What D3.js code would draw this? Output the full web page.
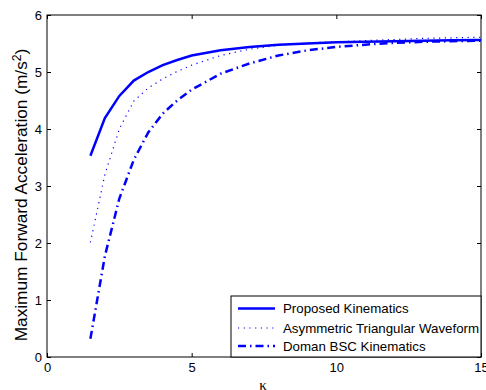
<!DOCTYPE html>
<html>
<head>
<meta charset="utf-8">
<script src="https://cdn.jsdelivr.net/npm/d3@7"></script>
<style>
  body { margin: 0; background: #fff; }
  text { font-family: "Liberation Sans", Arial, sans-serif; }
</style>
</head>
<body>
<div id="chart"></div>
<script>
  // data
  const kappa = [1.5, 2, 2.5, 3, 3.5, 4, 4.5, 5, 6, 7, 8, 9, 10, 11, 12, 13, 14, 15];
  const proposed = [3.53, 4.19, 4.58, 4.85, 5.0, 5.12, 5.21, 5.29, 5.38, 5.44, 5.48, 5.5, 5.52, 5.53, 5.54, 5.55, 5.555, 5.56];
  const triangular = [2.01, 3.2, 4.0, 4.49, 4.72, 4.88, 5.01, 5.12, 5.29, 5.4, 5.47, 5.51, 5.53, 5.55, 5.57, 5.59, 5.6, 5.61];
  const doman = [0.32, 1.77, 2.78, 3.46, 3.94, 4.27, 4.5, 4.69, 4.97, 5.15, 5.29, 5.38, 5.44, 5.48, 5.51, 5.53, 5.54, 5.55];

  const seriesNames = ["Proposed Kinematics", "Asymmetric Triangular Waveform", "Doman BSC Kinematics"];
  const xTicks = [0, 5, 10, 15];
  const yTicks = [0, 1, 2, 3, 4, 5, 6];

  //=========================================================================
  // Dimensions
  //=========================================================================
  var width = 486, height = 390;
  var margin = { top: 15, right: 5, bottom: 33, left: 47 },
      iwidth = width - margin.left - margin.right,
      iheight = height - margin.top - margin.bottom;

  var svg = d3.select("#chart").append("svg")
    .attr("width", width).attr("height", height);

  var g = svg.append("g")
    .attr("transform", `translate(${margin.left},${margin.top})`);

  var x = d3.scaleLinear().domain([0, 15]).range([0, iwidth]);
  var y = d3.scaleLinear().domain([0, 6]).range([iheight, 0]);

  //=========================================================================
  // Axes (matlab style box, ticks pointing in)
  //=========================================================================
  function styleAxis(sel) {
    sel.select(".domain").remove();
    sel.selectAll(".tick line").attr("stroke", "#000");
    sel.selectAll(".tick text").attr("fill", "#000")
      .style("font-size", "13px")
      .style("font-family", "Liberation Sans, Arial, sans-serif");
  }

  g.append("g").attr("transform", `translate(0,${iheight})`)
    .call(d3.axisBottom(x).tickValues(xTicks).tickFormat(d3.format("d"))
      .tickSizeInner(-4).tickSizeOuter(0).tickPadding(6))
    .call(styleAxis);
  g.append("g")
    .call(d3.axisTop(x).tickValues(xTicks).tickSizeInner(-4).tickSizeOuter(0).tickFormat(""))
    .call(styleAxis);
  g.append("g")
    .call(d3.axisLeft(y).tickValues(yTicks).tickFormat(d3.format("d"))
      .tickSizeInner(-4).tickSizeOuter(0).tickPadding(5))
    .call(styleAxis);
  g.append("g").attr("transform", `translate(${iwidth},0)`)
    .call(d3.axisRight(y).tickValues(yTicks).tickSizeInner(-4).tickSizeOuter(0).tickFormat(""))
    .call(styleAxis);

  g.append("rect")
    .attr("x", 0).attr("y", 0)
    .attr("width", iwidth).attr("height", iheight)
    .attr("fill", "none").attr("stroke", "#000").attr("stroke-width", 1);

  //=========================================================================
  // Lines
  //=========================================================================
  const styles = [
    { values: proposed, width: 2.5, dash: null },
    { values: triangular, width: 1.2, dash: "1.2,4.5" },
    { values: doman, width: 2.5, dash: "8,4,1.5,4" }
  ];

  var line = d3.line()
    .x((d) => x(d[0]))
    .y((d) => y(d[1]));

  styles.forEach((s) => {
    g.append("path")
      .datum(kappa.map((k, i) => [k, s.values[i]]))
      .attr("d", line)
      .attr("fill", "none")
      .attr("stroke", "#0000ff")
      .attr("stroke-width", s.width)
      .attr("stroke-dasharray", s.dash);
  });

  //=========================================================================
  // Labels
  //=========================================================================
  var ylab = svg.append("text")
    .attr("transform", `translate(27,195)rotate(-90)`)
    .attr("text-anchor", "middle")
    .style("font-size", "15.5px")
    .attr("fill", "#000");
  ylab.append("tspan").text("Maximum Forward Acceleration (m/s");
  var sup = ylab.append("tspan").attr("dy", -6).style("font-size", "11px").text("2");
  ylab.append("tspan").attr("dy", 6).text(")");

  // fit label length to the span seen in the figure (about 293px)
  var labLen = ylab.node().getBBox().width;
  var k = 293 / labLen;
  ylab.style("font-size", (15.5 * k) + "px");
  sup.style("font-size", (11 * k) + "px");

  svg.append("text")
    .attr("x", 263)
    .attr("y", 390)
    .attr("text-anchor", "middle")
    .style("font-family", "Liberation Serif, Times New Roman, serif")
    .style("font-size", "15px")
    .text("\u03BA");

  //=========================================================================
  // Legend
  //=========================================================================
  var lx = 231, ly = 296, lw = 250, lh = 61;
  var legend = svg.append("g");
  legend.append("rect")
    .attr("x", lx).attr("y", ly).attr("width", lw).attr("height", lh)
    .attr("fill", "#fff").attr("stroke", "#000").attr("stroke-width", 1);

  const rowY = [308.5, 328, 346];
  styles.forEach((s, i) => {
    legend.append("line")
      .attr("x1", 238).attr("x2", 275)
      .attr("y1", rowY[i]).attr("y2", rowY[i])
      .attr("stroke", "#0000ff")
      .attr("stroke-width", s.width)
      .attr("stroke-dasharray", s.dash);
    legend.append("text")
      .attr("x", 283).attr("y", rowY[i] + 4.5)
      .style("font-size", "13.3px")
      .attr("fill", "#000")
      .text(seriesNames[i]);
  });
</script>
</body>
</html>
